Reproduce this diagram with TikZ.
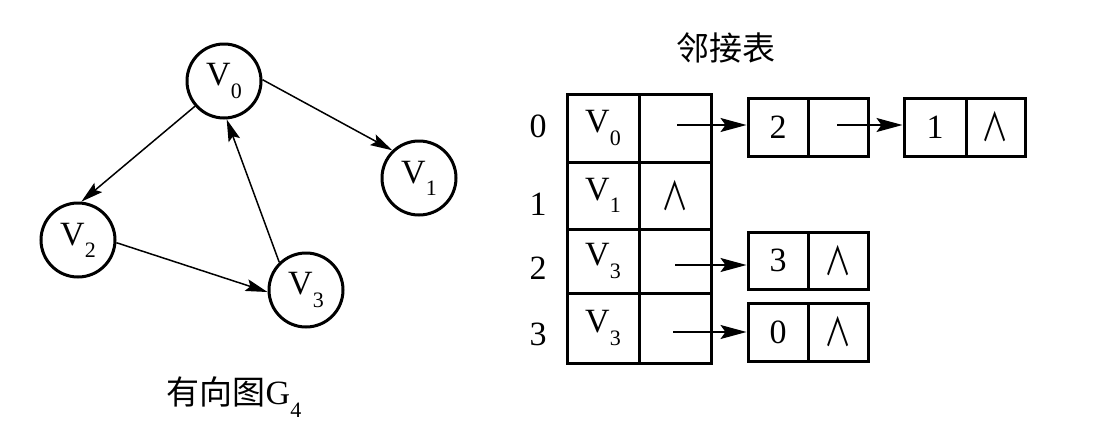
\documentclass[tikz,border=0pt]{standalone}
\usepackage{fontspec}
\setmainfont{Liberation Serif}
\newfontfamily\cjk{Noto Sans CJK SC}
\usetikzlibrary{arrows.meta}
\newcommand\vfont{\fontsize{34}{40}\selectfont}
\newcommand\vsub[1]{\raisebox{-0.36em}{\fontsize{22}{22}\selectfont #1}}
\newcommand\nil{\scalebox{0.8}[1.15]{\cjk\fontsize{34}{34}\selectfont ∧}}
\tikzset{
  vtx/.style={circle, draw, line width=3pt, minimum size=74pt, inner sep=0pt, font=\vfont},
  cellbox/.style={rectangle, draw, line width=3pt, inner sep=0pt, font=\vfont, minimum width=72pt},
  lbox/.style={rectangle, draw, line width=3pt, inner sep=0pt, font=\vfont, minimum width=60pt, minimum height=58pt},
  edge/.style={line width=1.5pt, -{Stealth[length=22pt,width=12pt,inset=4pt]}},
  ptr/.style={line width=1.5pt, -{Stealth[length=26pt,width=14pt,inset=5pt]}},
  lbl/.style={font=\vfont, inner sep=0pt}
}
\begin{document}
\begin{tikzpicture}[x=1pt,y=-1pt]
\useasboundingbox (0,0) rectangle (1103,426);
% graph
\node[vtx] (v0) at (224,81) {V\vsub{0}};
\node[vtx] (v1) at (419,178) {V\vsub{1}};
\node[vtx] (v2) at (78,240) {V\vsub{2}};
\node[vtx] (v3) at (306,290) {V\vsub{3}};
\draw[edge] (v0.2) -- (v1.134);
\draw[edge] (v0.221) -- (v2.85);
\draw[edge] (v3.134) -- (v0.274);
\draw[edge] (v2.-4) -- (v3.183);
\node[lbl] (cap) at (234,397) {{\cjk\fontsize{33}{40}\selectfont 有向图}G\vsub{4}};
% adjacency list
\node[lbl] (title) at (726,48) {\cjk\fontsize{33}{40}\selectfont 邻接表};
\node[lbl] (i0) at (538,126) {0};
\node[lbl] (i1) at (538,204) {1};
\node[lbl] (i2) at (538,268) {2};
\node[lbl] (i3) at (538,334) {3};
\node[cellbox, minimum height=68pt] (a0) at (603,128) {V\vsub{0}};
\node[cellbox, minimum height=68pt] (b0) at (675,128) {};
\node[cellbox, minimum height=67pt] (a1) at (603,195.5) {V\vsub{1}};
\node[cellbox, minimum height=67pt] (b1) at (675,195.5) {\raisebox{-10pt}{\nil}};
\node[cellbox, minimum height=64pt] (a2) at (603,261) {V\vsub{3}};
\node[cellbox, minimum height=64pt] (b2) at (675,261) {};
\node[cellbox, minimum height=70pt] (a3) at (603,328) {V\vsub{3}};
\node[cellbox, minimum height=70pt] (b3) at (675,328) {};
% list nodes
\node[lbox] (p0) at (778,127) {2};
\node[lbox] (q0) at (838,127) {};
\node[lbox, minimum width=62pt] (p1) at (935,127) {1};
\node[lbox, minimum width=59pt] (q1) at (995.5,127) {\nil};
\node[lbox, minimum height=57pt] (p2) at (778,260.5) {3};
\node[lbox, minimum height=57pt] (q2) at (838,260.5) {\nil};
\node[lbox] (p3) at (778,332) {0};
\node[lbox] (q3) at (838,332) {\nil};
% pointers
\coordinate (s0) at (677,125);
\coordinate (s1) at (837,125);
\coordinate (s2) at (675,265);
\coordinate (s3) at (673,332);
\draw[ptr] (s0) -- (s0 -| p0.west);
\draw[ptr] (s1) -- (s1 -| p1.west);
\draw[ptr] (s2) -- (s2 -| p2.west);
\draw[ptr] (s3) -- (s3 -| p3.west);
\end{tikzpicture}
\end{document}
